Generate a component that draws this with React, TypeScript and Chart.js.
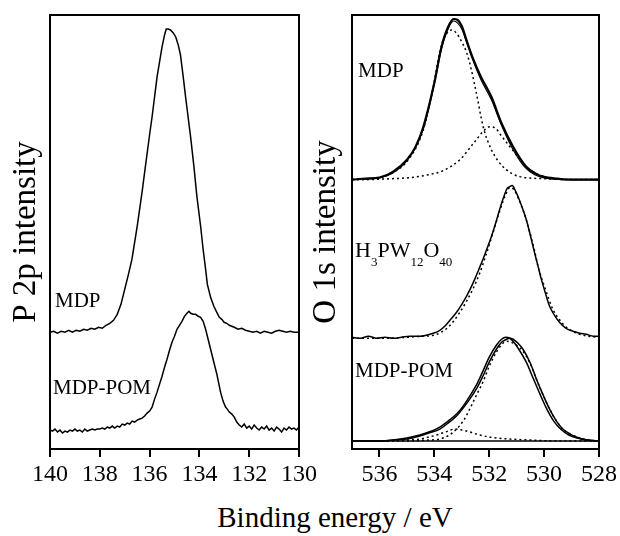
import React, { useEffect, useRef } from "react";
import { Chart, registerables } from "chart.js";

Chart.register(...registerables);

const FONT = "'Liberation Serif', 'DejaVu Serif', 'Times New Roman', Times, serif";

// ---- axes ----
const P2P_TICKS = [140, 138, 136, 134, 132, 130];
const O1S_TICKS = [536, 534, 532, 530, 528];
const P2P_RANGE = [130, 140];
const O1S_RANGE = [528, 537];
const Y_RANGE = [0, 435];

// ---- P 2p spectra: [binding energy eV, intensity a.u.] ----
const P2P_MDP: [number, number][] = [
  [140.0, 117], [139.85, 118], [139.7, 116], [139.55, 118], [139.4, 117], [139.25, 119],
  [139.1, 117], [138.95, 119], [138.8, 118], [138.65, 120], [138.5, 119], [138.35, 121],
  [138.2, 120], [138.05, 122], [137.9, 121], [137.75, 124], [137.6, 126], [137.45, 129],
  [137.3, 135], [137.15, 145], [137.0, 160], [136.85, 175], [136.71, 190], [136.5, 223],
  [136.3, 258], [136.17, 283], [136.0, 315], [135.9, 333], [135.7, 373], [135.5, 403],
  [135.4, 415], [135.33, 421], [135.25, 421], [135.16, 420], [135.05, 417], [134.95, 413],
  [134.85, 405], [134.76, 395], [134.65, 373], [134.55, 352], [134.49, 340], [134.35, 312],
  [134.22, 283], [134.1, 253], [133.95, 223], [133.85, 200], [133.75, 180], [133.68, 165],
  [133.55, 152], [133.42, 143], [133.3, 137], [133.2, 132], [133.1, 130], [133.01, 127],
  [132.9, 126], [132.8, 124], [132.7, 123], [132.6, 122], [132.45, 120], [132.3, 121],
  [132.15, 119], [132.0, 118], [131.85, 117], [131.7, 118], [131.55, 116], [131.4, 118],
  [131.25, 117], [131.1, 116], [130.95, 118], [130.8, 119], [130.65, 118], [130.5, 117],
  [130.35, 118], [130.2, 117], [130.0, 117],
];

const P2P_MDPPOM: [number, number][] = [
  [140.0, 19], [139.9, 18], [139.8, 20], [139.7, 17], [139.6, 19], [139.5, 16], [139.4, 18],
  [139.3, 17], [139.2, 19], [139.1, 18], [139.0, 20], [138.9, 18], [138.8, 19], [138.7, 17],
  [138.6, 20], [138.5, 18], [138.4, 19], [138.3, 20], [138.2, 19], [138.1, 20], [138.0, 20],
  [137.9, 21], [137.8, 20], [137.7, 22], [137.6, 21], [137.5, 23], [137.4, 21], [137.3, 23],
  [137.2, 22], [137.1, 25], [137.0, 24], [136.9, 26], [136.8, 25], [136.7, 28], [136.6, 27],
  [136.5, 29], [136.4, 30], [136.3, 31], [136.2, 33], [136.1, 36], [136.0, 38], [135.9, 42],
  [135.8, 50], [135.7, 57], [135.6, 65], [135.5, 73], [135.4, 82], [135.3, 90], [135.2, 99],
  [135.1, 107], [135.0, 113], [134.9, 120], [134.8, 124], [134.7, 128], [134.6, 133],
  [134.5, 136], [134.42, 138], [134.35, 136], [134.25, 135], [134.15, 135], [134.05, 133],
  [133.95, 132], [133.85, 128], [133.75, 120], [133.68, 113], [133.55, 100], [133.42, 87],
  [133.3, 75], [133.15, 57], [133.05, 48], [132.95, 42], [132.88, 40], [132.8, 37],
  [132.7, 35], [132.6, 32], [132.5, 27], [132.4, 24], [132.3, 22], [132.2, 25], [132.1, 21],
  [132.0, 23], [131.9, 20], [131.8, 24], [131.7, 21], [131.6, 19], [131.5, 22], [131.4, 20],
  [131.3, 23], [131.2, 19], [131.1, 21], [131.0, 18], [130.9, 22], [130.8, 20], [130.7, 17],
  [130.6, 21], [130.5, 19], [130.4, 22], [130.3, 20], [130.2, 21], [130.1, 19], [130.0, 22],
];

// ---- O 1s spectra ----
const O1S_MDP: [number, number][] = [
  [537.0, 270], [536.5, 271], [536.0, 272], [535.5, 278], [535.0, 290], [534.7, 302],
  [534.4, 323], [534.0, 367], [533.74, 403], [533.5, 423], [533.3, 431], [533.15, 430],
  [533.0, 424], [532.83, 410], [532.6, 392], [532.3, 373], [531.92, 353], [531.56, 327],
  [531.13, 303], [530.65, 283], [530.3, 276], [530.04, 273], [529.5, 271], [529.0, 270],
  [528.0, 270],
];
const O1S_MDP_FIT: [number, number][] = [
  [537.0, 270], [536.0, 272], [535.5, 277], [535.0, 289], [534.4, 321], [534.0, 366],
  [533.74, 401], [533.5, 421], [533.3, 429], [533.0, 421], [532.83, 408], [532.6, 390],
  [532.3, 370], [531.92, 350], [531.56, 325], [531.13, 300], [530.65, 281], [530.04, 272],
  [529.0, 270], [528.0, 270],
];
const O1S_MDP_C1: [number, number][] = [
  [537.0, 270], [536.7, 270], [536.0, 272], [535.5, 277], [534.89, 292], [534.4, 320],
  [534.04, 363], [533.8, 398], [533.68, 410], [533.5, 418], [533.37, 420], [533.2, 417],
  [533.0, 408], [532.83, 398], [532.65, 380], [532.47, 357], [532.22, 323], [531.92, 300],
  [531.5, 283], [530.89, 273], [530.06, 271], [529.0, 270], [528.0, 270],
];
const O1S_MDP_C2: [number, number][] = [
  [537.0, 270], [536.7, 270], [535.5, 271], [534.89, 272], [534.2, 275], [533.68, 279],
  [533.07, 290], [532.47, 310], [532.2, 319], [531.98, 323], [531.75, 321], [531.56, 314],
  [531.07, 297], [530.58, 281], [529.85, 272], [529.0, 270], [528.0, 270],
];

const O1S_HPW: [number, number][] = [
  [537.0, 112], [536.7, 111], [536.4, 113], [536.1, 111], [535.8, 112], [535.5, 111],
  [535.2, 112], [534.9, 113], [534.53, 113], [534.3, 114], [534.04, 116], [533.8, 119],
  [533.62, 123], [533.4, 130], [533.19, 137], [533.0, 145], [532.83, 153], [532.68, 161],
  [532.53, 170], [532.38, 180], [532.23, 190], [532.08, 201], [531.92, 213], [531.77, 226],
  [531.62, 240], [531.48, 252], [531.35, 261], [531.25, 263], [531.16, 264], [531.05, 259],
  [530.95, 253], [530.8, 242], [530.65, 230], [530.5, 214], [530.35, 197], [530.22, 183],
  [530.1, 170], [529.95, 156], [529.8, 143], [529.62, 134], [529.44, 127], [529.2, 121],
  [528.95, 118], [528.7, 116], [528.47, 115], [528.2, 113], [528.0, 113],
];
const O1S_HPW_FIT: [number, number][] = [
  [537.0, 111], [536.0, 111], [535.0, 112], [534.5, 113], [534.04, 114], [533.75, 117],
  [533.5, 122], [533.3, 128], [533.07, 137], [532.83, 148], [532.6, 160], [532.35, 176],
  [532.1, 196], [531.85, 218], [531.6, 240], [531.4, 255], [531.25, 262], [531.1, 260],
  [530.95, 252], [530.75, 238], [530.55, 220], [530.35, 199], [530.22, 183], [529.95, 160],
  [529.68, 140], [529.45, 130], [529.19, 122], [528.8, 116], [528.4, 113], [528.0, 112],
];

const O1S_POM: [number, number][] = [
  [537.0, 8], [536.5, 8], [536.0, 8], [535.5, 9], [535.0, 10], [534.53, 13], [534.2, 16],
  [533.8, 20], [533.5, 26], [533.19, 33], [532.95, 41], [532.71, 50], [532.45, 61],
  [532.23, 73], [532.0, 87], [531.74, 100], [531.55, 107], [531.37, 110], [531.25, 111],
  [531.13, 110], [530.95, 106], [530.77, 100], [530.5, 86], [530.28, 70], [530.05, 55],
  [529.8, 40], [529.55, 28], [529.32, 20], [529.05, 15], [528.83, 12], [528.5, 9], [528.0, 8],
];
const O1S_POM_FIT: [number, number][] = [
  [537.0, 8], [536.0, 8], [535.5, 9], [535.0, 11], [534.53, 14], [534.2, 17], [533.8, 22],
  [533.5, 28], [533.19, 35], [532.95, 43], [532.71, 53], [532.45, 65], [532.23, 78],
  [532.0, 92], [531.74, 104], [531.55, 110], [531.4, 112], [531.25, 111], [531.1, 107],
  [530.9, 99], [530.65, 87], [530.4, 71], [530.15, 55], [529.9, 40], [529.65, 28],
  [529.4, 20], [529.1, 14], [528.8, 11], [528.4, 9], [528.0, 8],
];
const O1S_POM_C1: [number, number][] = [
  [537.0, 8], [535.0, 8], [534.2, 9], [533.8, 10], [533.45, 14], [533.19, 20], [532.95, 28],
  [532.71, 40], [532.45, 55], [532.23, 67], [532.0, 83], [531.74, 97], [531.5, 106],
  [531.35, 108], [531.2, 107], [531.0, 104], [530.77, 98], [530.5, 85], [530.28, 70],
  [530.05, 55], [529.8, 40], [529.55, 28], [529.32, 20], [529.05, 15], [528.8, 12],
  [528.4, 9], [528.0, 8],
];
const O1S_POM_C2: [number, number][] = [
  [537.0, 8], [536.0, 8], [535.0, 9], [534.5, 10], [534.2, 12], [533.92, 14], [533.6, 17],
  [533.25, 20], [533.0, 19], [532.7, 17], [532.47, 15], [532.0, 12], [531.25, 10],
  [530.5, 9], [529.5, 8], [528.0, 8],
];
const O1S_POM_BG: [number, number][] = [[537.0, 8], [528.0, 8]];

// ---- panel labels: [text, energy, intensity] ----
const P2P_LABELS: [string, number, number][] = [
  ["MDP", 139.8, 142],
  ["MDP-POM", 139.88, 55],
];
const O1S_LABELS: [string, number, number][] = [
  ["MDP", 536.78, 373],
  ["H|3|PW|12|O|40", 536.89, 192],
  ["MDP-POM", 536.89, 72],
];

const xy = (a: [number, number][]) => a.map(([x, y]) => ({ x, y }));

function solid(a: [number, number][], w = 1.5, smooth = false) {
  return {
    data: xy(a),
    borderColor: "#000",
    borderWidth: w,
    pointRadius: 0,
    fill: false,
    tension: 0,
    cubicInterpolationMode: smooth ? "monotone" : "default",
  };
}
function dotted(a: [number, number][]) {
  return {
    data: xy(a),
    borderColor: "#000",
    borderWidth: 1.5,
    borderDash: [2, 3],
    pointRadius: 0,
    fill: false,
    cubicInterpolationMode: "monotone",
  };
}

const framePlugin = {
  id: "frame",
  afterDraw(chart: any) {
    const { ctx, chartArea: a } = chart;
    ctx.save();
    ctx.strokeStyle = "#000";
    ctx.lineWidth = 2;
    ctx.strokeRect(a.left, a.top, a.right - a.left, a.bottom - a.top);
    ctx.restore();
  },
};

function labelPlugin(items: [string, number, number][]) {
  return {
    id: "panelLabels",
    afterDatasetsDraw(chart: any) {
      const { ctx } = chart;
      const xs = chart.scales.x;
      const ys = chart.scales.y;
      ctx.save();
      ctx.fillStyle = "#000";
      ctx.textAlign = "left";
      ctx.textBaseline = "alphabetic";
      for (const [text, e, v] of items) {
        let px = xs.getPixelForValue(e);
        const py = ys.getPixelForValue(v);
        if (text.includes("|")) {
          const parts = text.split("|");
          parts.forEach((p, i) => {
            const sub = i % 2 === 1;
            ctx.font = `${sub ? 13 : 22}px ${FONT}`;
            ctx.fillText(p, px, py + (sub ? 9 : 0));
            px += ctx.measureText(p).width;
          });
        } else {
          ctx.font = `21px ${FONT}`;
          ctx.fillText(text, px, py);
        }
      }
      ctx.restore();
    },
  };
}

function makeConfig(
  datasets: any[],
  range: number[],
  ticks: number[],
  title: string,
  yWidth: number,
  padRight: number,
  labels: [string, number, number][]
): any {
  return {
    type: "line",
    data: { datasets },
    options: {
      responsive: false,
      animation: false,
      layout: { padding: { left: 7, top: 15, right: padRight, bottom: 0 } },
      plugins: { legend: { display: false }, tooltip: { enabled: false } },
      scales: {
        x: {
          type: "linear",
          min: range[0],
          max: range[1],
          reverse: true,
          afterBuildTicks: (s: any) => {
            s.ticks = ticks.map((v) => ({ value: v }));
          },
          afterFit: (s: any) => {
            s.height = 41;
          },
          ticks: {
            color: "#000",
            font: { family: FONT, size: 24 },
            padding: 3,
            maxRotation: 0,
            autoSkip: false,
            callback: (v: any) => String(v),
          },
          grid: {
            display: true,
            drawOnChartArea: false,
            drawTicks: true,
            tickLength: 8,
            color: "#000",
            lineWidth: 2,
          },
          border: { display: true, color: "#000", width: 2 },
        },
        y: {
          type: "linear",
          min: Y_RANGE[0],
          max: Y_RANGE[1],
          ticks: { display: false },
          grid: { display: false },
          border: { display: true, color: "#000", width: 2 },
          afterFit: (s: any) => {
            s.width = yWidth;
          },
          title: {
            display: true,
            text: title,
            color: "#000",
            font: { family: FONT, size: 33 },
            padding: 0,
          },
        },
      },
    },
    plugins: [framePlugin, labelPlugin(labels)],
  };
}

function Panel(props: { cfg: () => any; left: number; width: number }) {
  const ref = useRef<HTMLCanvasElement>(null);
  useEffect(() => {
    if (!ref.current) return;
    const chart = new Chart(ref.current, props.cfg());
    return () => chart.destroy();
  }, []);
  return (
    <canvas
      ref={ref}
      width={props.width}
      height={490}
      style={{ position: "absolute", left: props.left, top: 0, width: props.width, height: 490 }}
    />
  );
}

export default function App() {
  const leftCfg = () =>
    makeConfig(
      [solid(P2P_MDP, 1.5), solid(P2P_MDPPOM, 1.5)],
      P2P_RANGE,
      P2P_TICKS,
      "P 2p intensity",
      43,
      31,
      P2P_LABELS
    );
  const rightCfg = () =>
    makeConfig(
      [
        solid(O1S_MDP, 2.2, true),
        solid(O1S_MDP_FIT, 1.2, true),
        dotted(O1S_MDP_C1),
        dotted(O1S_MDP_C2),
        solid(O1S_HPW, 1.5, true),
        dotted(O1S_HPW_FIT),
        solid(O1S_POM, 1.5, true),
        solid(O1S_POM_FIT, 1.5, true),
        dotted(O1S_POM_C1),
        dotted(O1S_POM_C2),
        solid(O1S_POM_BG, 1.5),
      ],
      O1S_RANGE,
      O1S_TICKS,
      "O 1s intensity",
      45,
      20,
      O1S_LABELS
    );
  return (
    <div
      style={{
        position: "absolute",
        left: 0,
        top: 0,
        width: 620,
        height: 536,
        background: "#fff",
        overflow: "hidden",
      }}
    >
      <Panel cfg={leftCfg} left={0} width={330} />
      <Panel cfg={rightCfg} left={300} width={320} />
      <div
        style={{
          position: "absolute",
          left: 25,
          top: 502,
          width: 620,
          textAlign: "center",
          font: `29px ${FONT}`,
          lineHeight: "30px",
          color: "#000",
          whiteSpace: "nowrap",
        }}
      >
        Binding energy / eV
      </div>
    </div>
  );
}
